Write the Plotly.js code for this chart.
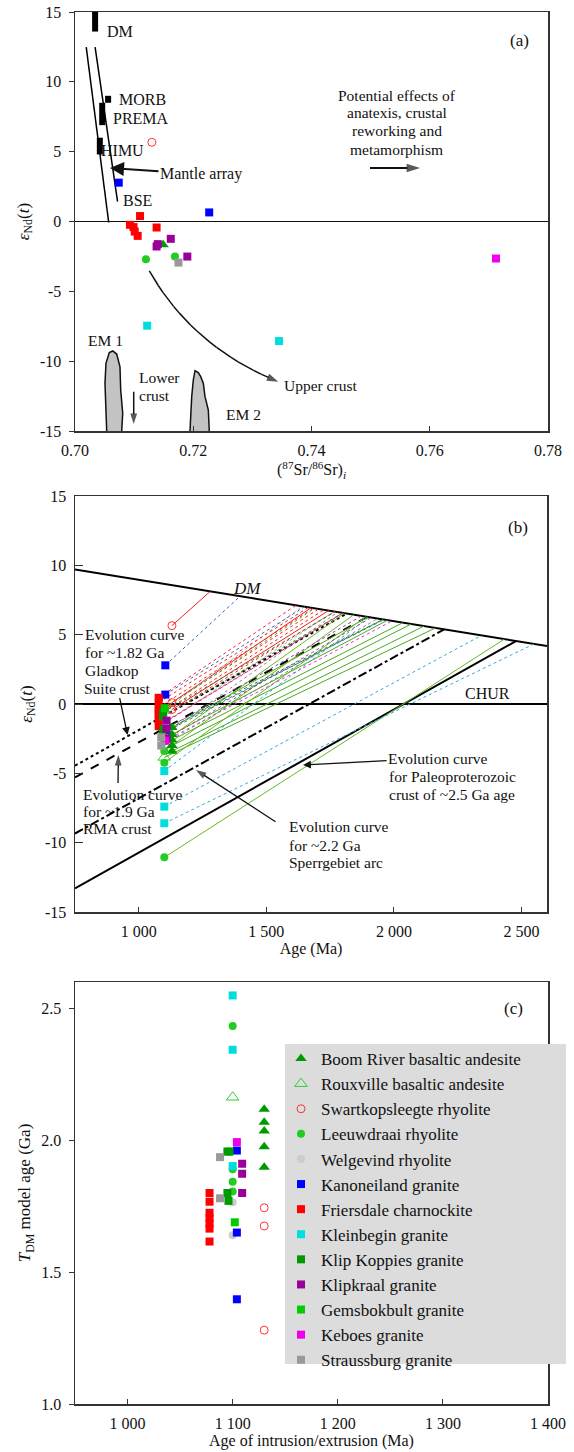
<!DOCTYPE html>
<html><head><meta charset="utf-8">
<script src="https://cdn.plot.ly/plotly-3.0.1.min.js"></script>
<style>html,body{margin:0;padding:0;background:#fff}</style>
</head><body><div id="chart" style="width:574px;height:1452px"></div>
<script>
const FONT = 'Liberation Serif, "Times New Roman", Times, serif';

// ---------------- Panel (a) data ----------------
const srTickVals = [0.70, 0.72, 0.74, 0.76, 0.78];
const srTickText = ['0.70', '0.72', '0.74', '0.76', '0.78'];
const epsTickVals = [-15, -10, -5, 0, 5, 10, 15];
const epsTickText = ['-15', '-10', '-5', '0', '5', '10', '15'];

const reservoirNames = ['DM', 'MORB', 'PREMA', 'HIMU'];
const reservoirSr = [0.7034, 0.7056, 0.7046, 0.7042];
const reservoirEpsLow = [13.6, 8.5, 6.9, 4.8];
const reservoirEpsHigh = [15.3, 9.0, 8.5, 6.0];

const mantleArray1Sr = [0.7019, 0.7057];
const mantleArray1Eps = [12.49, -0.07];
const mantleArray2Sr = [0.7034, 0.7072];
const mantleArray2Eps = [12.49, 1.43];

const em1Sr = [0.70536, 0.70507, 0.70524, 0.70580, 0.70638, 0.70705, 0.70761, 0.70773, 0.70807, 0.70790];
const em1Eps = [-15, -11.58, -10.15, -9.39, -9.27, -9.49, -10.40, -12.06, -13.73, -15];
const em2Sr = [0.71945, 0.71974, 0.72001, 0.72030, 0.72085, 0.72126, 0.72170, 0.72199, 0.72255, 0.72271];
const em2Eps = [-15, -12.54, -11.35, -10.68, -10.82, -11.11, -11.58, -12.54, -13.50, -15];

// initial Sr ratios and eNd(t) of samples (panel a)
const boomSr = [0.7149];               const boomSrEps = [-1.67];
const swartSr = [0.7130];              const swartSrEps = [5.67];
const leeuwSr = [0.7120, 0.7169];      const leeuwSrEps = [-2.70, -2.51];
const kanonSr = [0.7074, 0.7227];      const kanonSrEps = [2.78, 0.65];
const friersSr = [0.7110, 0.7093, 0.7099, 0.7101, 0.7106, 0.7138];
const friersSrEps = [0.39, -0.24, -0.40, -0.72, -1.03, -0.43];
const kleinSr = [0.7122, 0.7345];      const kleinSrEps = [-7.46, -8.56];
const klipkraalSr = [0.7162, 0.7138, 0.7140, 0.7190];
const klipkraalSrEps = [-1.24, -1.79, -1.62, -2.51];
const keboesSr = [0.7712];             const keboesSrEps = [-2.65];
const straussSr = [0.7175];            const straussSrEps = [-2.94];

// ---------------- Panel (b) data ----------------
const ageTickVals = [1000, 1500, 2000, 2500];
const ageTickText = ['1 000', '1 500', '2 000', '2 500'];
const dmAge = [750, 2600];
const dmEps = [9.70, 4.18];
const churAge = [750, 2600];
const churEps = [0, 0];
const gladkopAge = [750, 1815];   const gladkopEps = [-4.45, 6.52];
const rmaAge = [750, 1896];       const rmaEps = [-5.29, 6.28];
const sperrAge = [750, 2197];     const sperrEps = [-9.34, 5.38];
const paleoAge = [750, 2478];     const paleoEps = [-13.29, 4.53];

// sample age (Ma), eNd(t), T_DM (Ga)
const boomAge = [1130, 1130, 1130, 1130, 1130];
const boomEps = [-3.4, -3.0, -2.6, -2.2, -1.7];
const boomTdm = [2.118, 2.068, 2.035, 1.975, 1.898];
const rouxAge = [1100];  const rouxEps = [-3.85];  const rouxTdm = [2.163];
const swartAge = [1130, 1130, 1130];
const swartEps = [-0.4, 0.1, 5.65];
const swartTdm = [1.744, 1.675, 1.28];
const leeuwAge = [1100, 1100, 1100, 1100];
const leeuwEps = [-11.06, -4.23, -3.39, -2.7];
const leeuwTdm = [2.433, 1.890, 1.843, 1.806];
const welgAge = [1100, 1100];  const welgEps = [-1.4, -0.5];  const welgTdm = [1.765, 1.64];
const kanonAge = [1104, 1104, 1104];
const kanonEps = [-1.9, 0.68, 2.79];
const kanonTdm = [1.961, 1.650, 1.397];
const friersAge = [1078, 1078, 1078, 1078, 1078, 1078, 1078];
const friersEps = [0.45, 0.1, -0.25, -0.5, -0.8, -1.1, -1.6];
const friersTdm = [1.616, 1.665, 1.685, 1.705, 1.725, 1.767, 1.80];
const kleinAge = [1100, 1100, 1100];
const kleinEps = [-8.6, -7.4, -4.83];
const kleinTdm = [2.549, 2.343, 1.902];
const klipkopAge = [1095, 1097, 1095, 1096];
const klipkopEps = [-2.1, -1.8, -0.9, -0.6];
const klipkopTdm = [1.957, 1.957, 1.80, 1.77];
const klipkraalAge = [1109, 1109, 1109];
const klipkraalEps = [-2.5, -1.8, -1.2];
const klipkraalTdm = [1.911, 1.873, 1.80];
const gemsAge = [1102];  const gemsEps = [-0.3];  const gemsTdm = [1.689];
const keboesAge = [1104]; const keboesEps = [-2.65]; const keboesTdm = [1.993];
const straussAge = [1088, 1088]; const straussEps = [-3.0, -2.4]; const straussTdm = [1.936, 1.78];

// ---------------- Panel (c) ticks ----------------
const cAgeTickVals = [1000, 1100, 1200, 1300, 1400];
const cAgeTickText = ['1 000', '1 100', '1 200', '1 300', '1 400'];
const tdmTickVals = [1.0, 1.5, 2.0, 2.5];
const tdmTickText = ['1.0', '1.5', '2.0', '2.5'];

const unitNames = ['Boom River basaltic andesite', 'Rouxville basaltic andesite', 'Swartkopsleegte rhyolite',
  'Leeuwdraai rhyolite', 'Welgevind rhyolite', 'Kanoneiland granite', 'Friersdale charnockite',
  'Kleinbegin granite', 'Klip Koppies granite', 'Klipkraal granite', 'Gemsbokbult granite',
  'Keboes granite', 'Straussburg granite'];

// style table built from the arrays above
const units = [
  {name: unitNames[0], sym: 'triangle-up', col: '#009a00', size: 10, age: boomAge, eps: boomEps, tdm: boomTdm, sr: boomSr, srEps: boomSrEps, lc: '#4aaa22', dash: 'solid'},
  {name: unitNames[1], sym: 'triangle-up-open', col: '#33cc33', size: 11, age: rouxAge, eps: rouxEps, tdm: rouxTdm, lc: '#4aaa22', dash: 'solid'},
  {name: unitNames[2], sym: 'circle-open', col: '#ff3333', size: 8, age: swartAge, eps: swartEps, tdm: swartTdm, sr: swartSr, srEps: swartSrEps, lc: '#ee2222', dash: 'solid'},
  {name: unitNames[3], sym: 'circle', col: '#22cc22', size: 8, age: leeuwAge, eps: leeuwEps, tdm: leeuwTdm, sr: leeuwSr, srEps: leeuwSrEps, lc: '#66bb22', dash: 'solid'},
  {name: unitNames[4], sym: 'circle', col: '#cccccc', size: 8, age: welgAge, eps: welgEps, tdm: welgTdm, lc: '#aaaaaa', dash: 'dot'},
  {name: unitNames[5], sym: 'square', col: '#0000ff', size: 8, age: kanonAge, eps: kanonEps, tdm: kanonTdm, sr: kanonSr, srEps: kanonSrEps, lc: '#3366cc', dash: 'dot'},
  {name: unitNames[6], sym: 'square', col: '#ff0000', size: 8, age: friersAge, eps: friersEps, tdm: friersTdm, sr: friersSr, srEps: friersSrEps, lc: '#ff2222', dash: 'dot'},
  {name: unitNames[7], sym: 'square', col: '#00dddd', size: 8, age: kleinAge, eps: kleinEps, tdm: kleinTdm, sr: kleinSr, srEps: kleinSrEps, lc: '#33aadd', dash: 'dot'},
  {name: unitNames[8], sym: 'square', col: '#009900', size: 8, age: klipkopAge, eps: klipkopEps, tdm: klipkopTdm, lc: '#228822', dash: 'dot'},
  {name: unitNames[9], sym: 'square', col: '#990099', size: 8, age: klipkraalAge, eps: klipkraalEps, tdm: klipkraalTdm, sr: klipkraalSr, srEps: klipkraalSrEps, lc: '#aa33aa', dash: 'dot'},
  {name: unitNames[10], sym: 'square', col: '#00cc00', size: 8, age: gemsAge, eps: gemsEps, tdm: gemsTdm, lc: '#33bb33', dash: 'dot'},
  {name: unitNames[11], sym: 'square', col: '#ee00ee', size: 8, age: keboesAge, eps: keboesEps, tdm: keboesTdm, sr: keboesSr, srEps: keboesSrEps, lc: '#dd33dd', dash: 'dot'},
  {name: unitNames[12], sym: 'square', col: '#999999', size: 8, age: straussAge, eps: straussEps, tdm: straussTdm, sr: straussSr, srEps: straussSrEps, lc: '#888888', dash: 'dot'}
];

function dmAt(age) {
  const f = (age - dmAge[0]) / (dmAge[1] - dmAge[0]);
  return dmEps[0] + f * (dmEps[1] - dmEps[0]);
}

const traces = [];
const base = {showlegend: false, hoverinfo: 'skip'};
function line(x, y, ax, color, width, dash) {
  return Object.assign({}, base, {x: x, y: y, xaxis: 'x' + ax, yaxis: 'y' + ax, mode: 'lines',
    line: {color: color, width: width, dash: dash || 'solid'}});
}
// guide arrow: a line with an arrow-head marker at its last point
function arrowLine(ax, xs, ys, width, head) {
  return Object.assign({}, base, {x: xs, y: ys, xaxis: 'x' + ax, yaxis: 'y' + ax, mode: 'lines+markers',
    cliponaxis: false, line: {color: '#111', width: width},
    marker: {symbol: 'arrow', angleref: 'previous', color: '#111',
      size: xs.map((v, i) => i === xs.length - 1 ? head : 0), line: {width: 0}}});
}

// ----- panel (a)
traces.push(Object.assign({}, base, {x: em1Sr, y: em1Eps, xaxis: 'x', yaxis: 'y', mode: 'lines', fill: 'toself', fillcolor: '#c3c3c3', line: {color: '#111', width: 1.5}}));
traces.push(Object.assign({}, base, {x: em2Sr, y: em2Eps, xaxis: 'x', yaxis: 'y', mode: 'lines', fill: 'toself', fillcolor: '#c3c3c3', line: {color: '#111', width: 1.5}}));
traces.push(line(mantleArray1Sr, mantleArray1Eps, '', '#000', 1.5));
traces.push(line(mantleArray2Sr, mantleArray2Eps, '', '#000', 1.5));
reservoirNames.forEach((n, i) => {
  traces.push(line([reservoirSr[i], reservoirSr[i]], [reservoirEpsLow[i], reservoirEpsHigh[i]], '', '#000', 6));
});
// upper-crust trend (quadratic curve) and other guide arrows of panel (a)
const ucP0 = [0.71257, -3.54], ucC = [0.7199, -8.99], ucP2 = [0.73438, -11.47];
const ucX = [], ucY = [];
for (let k = 0; k <= 20; k++) {
  const t = k / 20, a = (1 - t) * (1 - t), b = 2 * (1 - t) * t, c = t * t;
  ucX.push(a * ucP0[0] + b * ucC[0] + c * ucP2[0]);
  ucY.push(a * ucP0[1] + b * ucC[1] + c * ucP2[1]);
}
traces.push(arrowLine('', ucX, ucY, 1.5, 12));
traces.push(arrowLine('', [0.74989, 0.75835], [3.83, 3.83], 2, 14));
traces.push(arrowLine('', [0.70993, 0.70993], [-12.19, -14.5], 1.5, 11));
units.forEach(u => {
  if (!u.sr) return;
  traces.push(Object.assign({}, base, {x: u.sr, y: u.srEps, xaxis: 'x', yaxis: 'y', mode: 'markers',
    marker: {symbol: u.sym, color: u.col, size: u.size, line: {width: u.sym.indexOf('open') >= 0 ? 1 : 0}}}));
});

// ----- panel (b)
traces.push(line(gladkopAge, gladkopEps, '2', '#000', 2, 'dot'));
traces.push(line(rmaAge, rmaEps, '2', '#000', 2, 'dash'));
traces.push(line(sperrAge, sperrEps, '2', '#000', 2, 'dashdot'));
traces.push(line(paleoAge, paleoEps, '2', '#000', 2));
traces.push(line(dmAge, dmEps, '2', '#000', 2));
traces.push(line(churAge, churEps, '2', '#000', 2));
units.forEach(u => {
  const xs = [], ys = [];
  u.age.forEach((a, i) => {
    xs.push(a, u.tdm[i] * 1000, null);
    ys.push(u.eps[i], dmAt(u.tdm[i] * 1000), null);
  });
  traces.push(line(xs, ys, '2', u.lc, 1, u.dash));
});
units.forEach(u => {
  traces.push(Object.assign({}, base, {x: u.age, y: u.eps, xaxis: 'x2', yaxis: 'y2', mode: 'markers',
    marker: {symbol: u.sym, color: u.col, size: u.size, line: {width: u.sym.indexOf('open') >= 0 ? 1 : 0}}}));
});
traces.push(arrowLine('2', [918.6, 920], [-5.70, -3.68], 1.3, 11));
traces.push(arrowLine('2', [1536, 1224], [-8.49, -4.76], 1.3, 11));

// ----- panel (c)
units.forEach(u => {
  traces.push({x: u.age, y: u.tdm, xaxis: 'x3', yaxis: 'y3', mode: 'markers', name: u.name, showlegend: true,
    marker: {symbol: u.sym, color: u.col, size: u.size, line: {width: u.sym.indexOf('open') >= 0 ? 1 : 0}}});
});

const W = 574, H = 1452;
const px = v => v / W, py = v => 1 - v / H;
const axBase = {showline: true, mirror: true, linecolor: '#333', linewidth: 1.5, showgrid: false, zeroline: false,
  tickcolor: '#333', tickfont: {family: FONT, size: 16, color: '#111'}, ticklabelstandoff: 4};

function T(text, size, extra) {
  return {text: text, font: Object.assign({family: FONT, size: size || 16, color: '#111'}, extra || {})};
}

const layout = {
  width: W, height: H, margin: {l: 0, r: 0, t: 0, b: 0},
  paper_bgcolor: '#fff', plot_bgcolor: '#fff',
  font: {family: FONT, color: '#111'},
  xaxis: Object.assign({}, axBase, {domain: [px(75), px(548)], range: [0.70, 0.78], anchor: 'y',
    tickvals: srTickVals, ticktext: srTickText, ticks: 'inside', ticklen: 5,
    title: Object.assign(T('(<sup>87</sup>Sr/<sup>86</sup>Sr)<sub><i>i</i></sub>', 16), {standoff: 0})}),
  yaxis: Object.assign({}, axBase, {domain: [py(431), py(12)], range: [-15, 15], anchor: 'x',
    tickvals: epsTickVals, ticktext: epsTickText, ticks: 'outside', ticklen: 5,
    zeroline: true, zerolinecolor: '#111', zerolinewidth: 1.5,
    title: Object.assign(T('<i>ε</i><sub>Nd</sub>(<i>t</i>)', 17), {standoff: 6})}),
  xaxis2: Object.assign({}, axBase, {domain: [px(75), px(547)], range: [750, 2600], anchor: 'y2',
    tickvals: ageTickVals, ticktext: ageTickText, ticks: 'inside', ticklen: 5,
    title: Object.assign(T('Age (Ma)', 16), {standoff: 2})}),
  yaxis2: Object.assign({}, axBase, {domain: [py(912), py(496)], range: [-15, 15], anchor: 'x2',
    tickvals: epsTickVals, ticktext: epsTickText, ticks: 'inside', ticklen: 8,
    title: Object.assign(T('<i>ε</i><sub>Nd</sub>(<i>t</i>)', 17), {standoff: 8})}),
  xaxis3: Object.assign({}, axBase, {domain: [px(75), px(548)], range: [950, 1400], anchor: 'y3',
    tickvals: cAgeTickVals, ticktext: cAgeTickText, ticks: 'inside', ticklen: 5,
    title: Object.assign(T('Age of intrusion/extrusion (Ma)', 16), {standoff: 2})}),
  yaxis3: Object.assign({}, axBase, {domain: [py(1404), py(982)], range: [1.0, 2.6], anchor: 'x3',
    tickvals: tdmTickVals, ticktext: tdmTickText, ticks: 'outside', ticklen: 5,
    title: Object.assign(T('<i>T</i><sub>DM</sub> model age (Ga)', 17), {standoff: 6})}),
  legend: {x: px(281), xanchor: 'left', y: py(1041), yanchor: 'top', bgcolor: 'rgba(0,0,0,0)',
    font: {family: FONT, size: 17, color: '#111'}, tracegroupgap: 0},
  shapes: [
    {type: 'rect', xref: 'paper', yref: 'paper', x0: px(285), x1: px(566), y0: py(1364), y1: py(1044),
      fillcolor: '#dcdcdc', line: {width: 0}, layer: 'above'}
  ],
  annotations: []
};

const A = layout.annotations;
function txt(ax, x, y, text, size, anchor, extra) {
  A.push(Object.assign({xref: 'x' + ax, yref: 'y' + ax, x: x, y: y, text: text, showarrow: false,
    xanchor: anchor || 'left', yanchor: 'middle', font: {family: FONT, size: size || 16, color: '#111'}}, extra || {}));
}
function arrowTxt(ax, x, y, dx, dy, text, size, w, hs) {
  A.push({xref: 'x' + ax, yref: 'y' + ax, x: x, y: y, ax: dx, ay: dy, text: text, showarrow: true,
    arrowhead: 2, arrowsize: hs || 1.2, arrowwidth: w || 1.5, arrowcolor: '#111',
    font: {family: FONT, size: size || 16, color: '#111'}});
}

// panel (a) text
txt('', 0.70507, 13.57, 'DM', 16);
txt('', 0.70705, 8.70, 'MORB', 16);
txt('', 0.70609, 7.39, 'PREMA', 16);
txt('', 0.70411, 5.07, 'HIMU', 16);
txt('', 0.70773, 1.49, 'BSE', 16);
arrowTxt('', 0.70592, 3.83, 91, 6, 'Mantle array', 16, 2, 1.4);
txt('', 0.77510, 12.99, '(a)', 17, 'center');
txt('', 0.75446, 8.99, 'Potential effects of', 15.5, 'center');
txt('', 0.75446, 7.77, 'anatexis, crustal', 15.5, 'center');
txt('', 0.75446, 6.48, 'reworking and', 15.5, 'center');
txt('', 0.75446, 5.19, 'metamorphism', 15.5, 'center');
txt('', 0.70524, -8.53, 'EM 1', 15.5, 'center');
txt('', 0.71044, -11.18, 'Lower', 15.5);
txt('', 0.71044, -12.47, 'crust', 15.5);
txt('', 0.72520, -13.85, 'EM 2', 15.5);
txt('', 0.73496, -11.76, 'Upper crust', 15.5);

// panel (b) text
txt('2', 1423, 8.34, '<i>DM</i>', 17, 'center');
txt('2', 2367, 0.79, 'CHUR', 16, 'center');
txt('2', 2487, 12.76, '(b)', 17, 'center');
txt('2', 781, 4.98, 'Evolution curve', 15.5);
txt('2', 781, 3.68, 'for ~1.82 Ga', 15.5);
txt('2', 781, 2.45, 'Gladkop', 15.5);
arrowTxt('2', 956, -2.24, -10, -47, 'Suite crust', 15.5, 1.3, 1.2);
txt('2', 772, -6.51, 'Evolution curve', 15.5);
txt('2', 772, -7.77, 'for ~1.9 Ga', 15.5);
txt('2', 772, -9.01, 'RMA crust', 15.5);
arrowTxt('2', 1644, -4.40, 135, -7, 'Evolution curve', 15.5, 1.3, 1.2);
txt('2', 1971, -5.24, 'for Paleoproterozoic', 15.5);
txt('2', 1971, -6.51, 'crust of ~2.5 Ga age', 15.5);
txt('2', 1579, -8.85, 'Evolution curve', 15.5);
txt('2', 1579, -10.17, 'for ~2.2 Ga', 15.5);
txt('2', 1579, -11.44, 'Sperrgebiet arc', 15.5);

// panel (c)
txt('3', 1366.7, 2.499, '(c)', 17, 'center');

Plotly.newPlot('chart', traces, layout, {displayModeBar: false, staticPlot: true});
</script></body></html>
